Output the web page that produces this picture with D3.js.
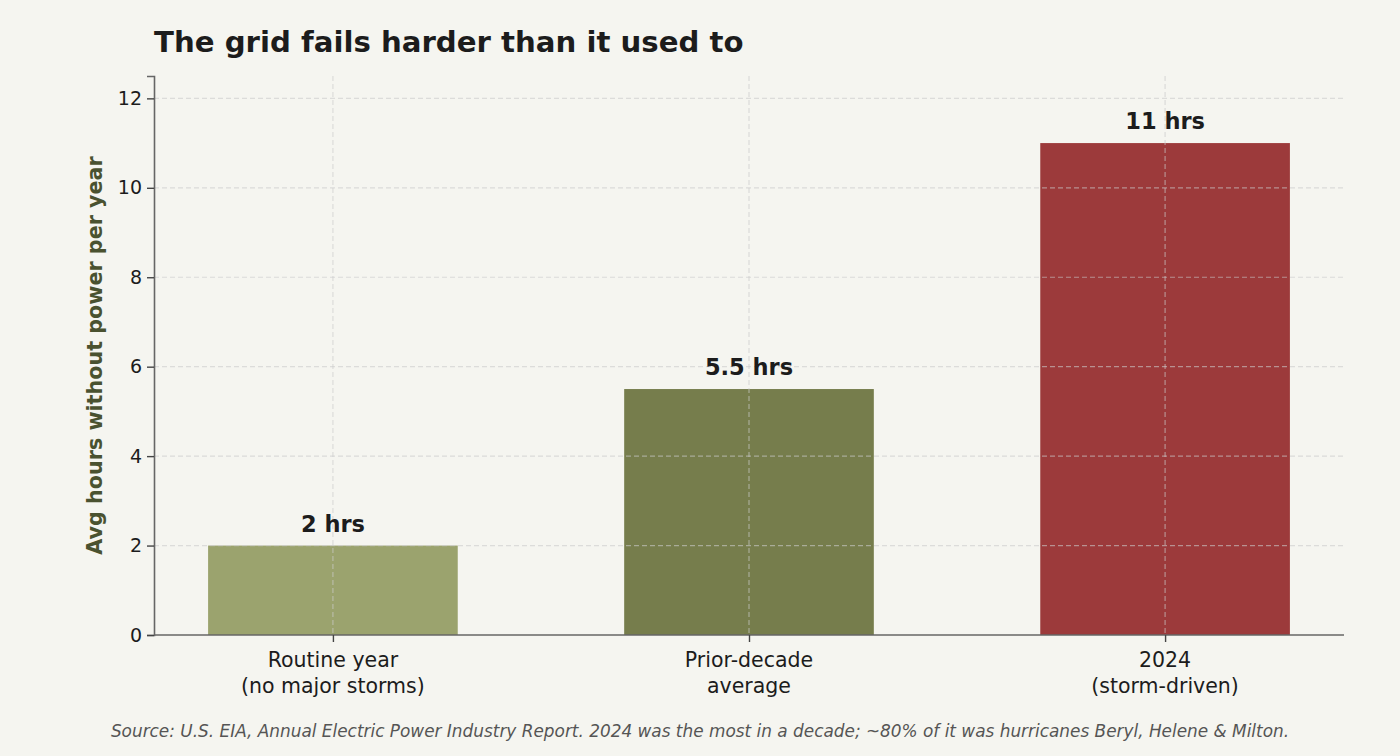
<!DOCTYPE html>
<html>
<head>
<meta charset="utf-8">
<script src="https://cdn.jsdelivr.net/npm/d3@7"></script>
<style>
  body { margin: 0; background: #f5f5f0; }
  text { font-family: "DejaVu Sans", sans-serif; }
</style>
</head>
<body>
<script>
var width = 1400;
var height = 756;

// data
var categories = ["Routine year\n(no major storms)", "Prior-decade\naverage", "2024\n(storm-driven)"];
var hours = [2, 5.5, 11];
var valueLabels = ["2 hrs", "5.5 hrs", "11 hrs"];
var barColors = ["#9ba36e", "#767d4c", "#9c3a3b"];
var yTicks = [0, 2, 4, 6, 8, 10, 12];

var margin = {left: 154, right: 56, top: 76, bottom: 121};

var svg = d3.select("body")
    .append("svg")
    .attr("width", width)
    .attr("height", height);

svg.append("rect")
    .attr("width", width)
    .attr("height", height)
    .attr("fill", "#f5f5f0");

var x = d3.scalePoint()
    .domain(d3.range(categories.length))
    .range([margin.left, width - margin.right])
    .padding(0.43);

var y = d3.scaleLinear()
    .domain([0, 12.5])
    .range([height - margin.bottom, margin.top]);

var barWidth = x.step() * 0.6;

// bars
svg.selectAll("rect.bar")
    .data(hours)
    .enter()
    .append("rect")
    .attr("class", "bar")
    .attr("x", function(d, i) { return x(i) - barWidth / 2; })
    .attr("y", function(d) { return y(d); })
    .attr("width", barWidth)
    .attr("height", function(d) { return y(0) - y(d); })
    .attr("fill", function(d, i) { return barColors[i]; });

// grid on top of bars, like the original
var grid = svg.append("g");
yTicks.forEach(function(t) {
    if (t === 0) return;
    grid.append("line")
        .attr("x1", margin.left).attr("x2", width - margin.right)
        .attr("y1", y(t)).attr("y2", y(t))
        .attr("stroke", "#cccccc").attr("stroke-opacity", 0.6)
        .attr("stroke-width", 1.2).attr("stroke-dasharray", "5,3");
});
categories.forEach(function(c, i) {
    grid.append("line")
        .attr("x1", x(i)).attr("x2", x(i))
        .attr("y1", margin.top).attr("y2", y(0))
        .attr("stroke", "#cccccc").attr("stroke-opacity", 0.6)
        .attr("stroke-width", 1.2).attr("stroke-dasharray", "5,3");
});

// value labels
svg.selectAll("text.val")
    .data(hours)
    .enter()
    .append("text")
    .attr("class", "val")
    .attr("x", function(d, i) { return x(i); })
    .attr("y", function(d) { return y(d) - 14; })
    .attr("text-anchor", "middle")
    .attr("font-size", 22.5)
    .attr("font-weight", "bold")
    .attr("fill", "#1c1c1c")
    .text(function(d, i) { return valueLabels[i]; });

// y axis
var yAxis = svg.append("g")
    .attr("transform", "translate(" + margin.left + ",0)")
    .call(d3.axisLeft(y).tickValues(yTicks).tickSize(7).tickPadding(5));
yAxis.select(".domain").attr("stroke", "#666666").attr("stroke-width", 1.6);
yAxis.selectAll(".tick line").attr("stroke", "#444444").attr("stroke-width", 1.4);
yAxis.selectAll(".tick text")
    .attr("font-size", 19)
    .attr("fill", "#1c1c1c")
    .attr("font-family", "DejaVu Sans");

// x axis
var xAxis = svg.append("g")
    .attr("transform", "translate(0," + y(0) + ")")
    .call(d3.axisBottom(x).tickSize(7).tickFormat(""));
xAxis.select(".domain")
    .attr("d", "M" + margin.left + ",0H" + (width - margin.right))
    .attr("stroke", "#666666").attr("stroke-width", 1.6);
xAxis.selectAll(".tick line").attr("stroke", "#444444").attr("stroke-width", 1.4);

categories.forEach(function(c, i) {
    var lines = c.split("\n");
    var t = svg.append("text")
        .attr("x", x(i))
        .attr("y", y(0) + 32)
        .attr("text-anchor", "middle")
        .attr("font-size", 20.5)
        .attr("fill", "#1c1c1c");
    lines.forEach(function(l, j) {
        t.append("tspan")
            .attr("x", x(i))
            .attr("dy", j === 0 ? 0 : 25.5)
            .text(l);
    });
});

// y label
svg.append("text")
    .attr("transform", "translate(102," + ((margin.top + y(0)) / 2 + 0) + ") rotate(-90)")
    .attr("text-anchor", "middle")
    .attr("font-size", 20.7)
    .attr("font-weight", "bold")
    .attr("fill", "#4a5230")
    .text("Avg hours without power per year");

// title
svg.append("text")
    .attr("x", margin.left)
    .attr("y", 52)
    .attr("font-size", 29.2)
    .attr("font-weight", "bold")
    .attr("fill", "#1c1c1c")
    .text("The grid fails harder than it used to");

// source
svg.append("text")
    .attr("x", width / 2)
    .attr("y", 737)
    .attr("text-anchor", "middle")
    .attr("font-size", 16.9)
    .attr("font-style", "italic")
    .attr("fill", "#555555")
    .text("Source: U.S. EIA, Annual Electric Power Industry Report. 2024 was the most in a decade; ~80% of it was hurricanes Beryl, Helene & Milton.");
</script>
</body>
</html>
